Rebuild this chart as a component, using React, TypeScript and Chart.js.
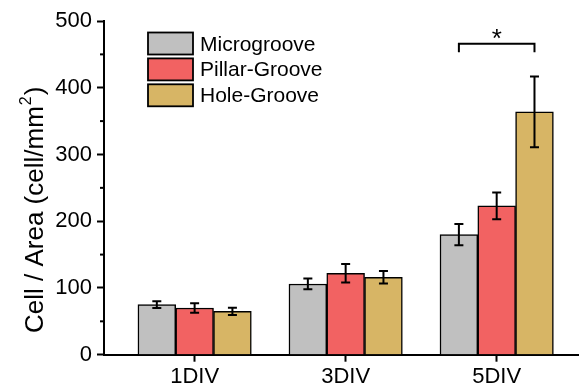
import React, { useEffect, useRef } from 'react';
import { Chart, registerables } from 'chart.js';

Chart.register(...registerables);

const categories = ['1DIV', '3DIV', '5DIV'];
const categoryPositions = [1, 2, 3];
const seriesNames = ['Microgroove', 'Pillar-Groove', 'Hole-Groove'];
const microgroove = [75, 106, 180];
const pillarGroove = [70, 122, 223];
const holeGroove = [65, 116, 364];
const microgrooveErr = [5, 8, 16];
const pillarGrooveErr = [7, 14, 20];
const holeGrooveErr = [5.5, 9.5, 53];
const yMajorTicks = [0, 100, 200, 300, 400, 500];
const yMinorTicks = [50, 150, 250, 350, 450];
// significance bracket: category index, series from/to, bracket level, leg end
const sigCategory = 2;
const sigFrom = 0;
const sigTo = 2;
const sigLevel = 466;
const sigLegEnd = 453;
const sigLabel = '*';

const seriesValues = [microgroove, pillarGroove, holeGroove];
const seriesErrors = [microgrooveErr, pillarGrooveErr, holeGrooveErr];
const seriesColors = ['#c0c0c0', '#f26262', '#d7b565'];
const FONT = '"Liberation Sans", Arial, sans-serif';

const overlayPlugin = {
  id: 'overlay',
  afterDatasetsDraw(chart: any) {
    const ctx = chart.ctx;
    const y = chart.scales.y;
    ctx.save();
    ctx.strokeStyle = '#000';
    ctx.fillStyle = '#000';
    // error bars
    ctx.lineWidth = 2;
    seriesValues.forEach((vals, i) => {
      const meta = chart.getDatasetMeta(i);
      vals.forEach((v, j) => {
        const el = meta.data[j];
        const x = el.x;
        const yt = y.getPixelForValue(v + seriesErrors[i][j]);
        const yb = y.getPixelForValue(v - seriesErrors[i][j]);
        ctx.beginPath();
        ctx.moveTo(x, yt);
        ctx.lineTo(x, yb);
        ctx.moveTo(x - 4.5, yt);
        ctx.lineTo(x + 4.5, yt);
        ctx.moveTo(x - 4.5, yb);
        ctx.lineTo(x + 4.5, yb);
        ctx.stroke();
      });
    });
    // significance bracket
    const x1 = chart.getDatasetMeta(sigFrom).data[sigCategory].x;
    const x2 = chart.getDatasetMeta(sigTo).data[sigCategory].x;
    const yl = y.getPixelForValue(sigLevel);
    const yleg = y.getPixelForValue(sigLegEnd);
    ctx.lineWidth = 2;
    ctx.beginPath();
    ctx.moveTo(x1, yleg);
    ctx.lineTo(x1, yl);
    ctx.lineTo(x2, yl);
    ctx.lineTo(x2, yleg);
    ctx.stroke();
    ctx.font = `26px ${FONT}`;
    ctx.textAlign = 'center';
    ctx.textBaseline = 'alphabetic';
    ctx.fillText(sigLabel, (x1 + x2) / 2, yl + 3);
    ctx.restore();
  },
  afterDraw(chart: any) {
    const ctx = chart.ctx;
    const y = chart.scales.y;
    const left = chart.chartArea.left;
    ctx.save();
    // minor ticks
    ctx.strokeStyle = '#000';
    ctx.lineWidth = 2;
    yMinorTicks.forEach((v) => {
      const py = y.getPixelForValue(v);
      ctx.beginPath();
      ctx.moveTo(left - 4, py);
      ctx.lineTo(left, py);
      ctx.stroke();
    });
    // legend
    ctx.font = `21px ${FONT}`;
    ctx.textAlign = 'left';
    ctx.textBaseline = 'alphabetic';
    seriesNames.forEach((name, i) => {
      const top = 32.5 + i * 25.9;
      ctx.fillStyle = seriesColors[i];
      ctx.fillRect(148, top, 45, 22);
      ctx.lineWidth = 1.8;
      ctx.strokeStyle = '#000';
      ctx.strokeRect(148, top, 45, 22);
      ctx.fillStyle = '#000';
      ctx.fillText(name, 200, top + 18);
    });
    // y title
    ctx.translate(43, 333);
    ctx.rotate(-Math.PI / 2);
    ctx.font = `26px ${FONT}`;
    const main = 'Cell / Area (cell/mm';
    ctx.fillText(main, 0, 0);
    const w = ctx.measureText(main).width;
    ctx.font = `16px ${FONT}`;
    ctx.fillText('2', w + 1, -12);
    const w2 = ctx.measureText('2').width;
    ctx.font = `26px ${FONT}`;
    ctx.fillText(')', w + w2 + 2, 0);
    ctx.restore();
  },
};

export default function App() {
  const ref = useRef<HTMLCanvasElement>(null);
  useEffect(() => {
    document.body.style.margin = '0';
    const canvas = ref.current!;
    const chart = new Chart(canvas, {
      type: 'bar',
      data: {
        datasets: seriesNames.map((name, i) => ({
          label: name,
          data: seriesValues[i].map((v, j) => ({ x: categoryPositions[j], y: v })),
          backgroundColor: seriesColors[i],
          borderColor: '#000',
          borderWidth: 1.5,
          barThickness: 37.8,
        })),
      },
      options: {
        animation: false,
        responsive: false,
        devicePixelRatio: 1,
        layout: { padding: { top: 21, right: 0, left: 0, bottom: 0 } },
        plugins: { legend: { display: false }, tooltip: { enabled: false } },
        scales: {
          x: {
            type: 'linear',
            offset: false,
            min: 0.4,
            max: 3.545,
            afterBuildTicks: (axis: any) => {
              axis.ticks = categoryPositions.map((v) => ({ value: v }));
            },
            afterFit: (scale: any) => {
              scale.height = 34.3;
            },
            ticks: {
              autoSkip: false,
              maxRotation: 0,
              padding: 2,
              color: '#000',
              font: { family: FONT, size: 22 },
              callback: (v: any) => categories[categoryPositions.indexOf(v)] ?? '',
            },
            grid: {
              offset: false,
              drawOnChartArea: false,
              drawTicks: true,
              tickLength: 7,
              tickWidth: 2,
              tickColor: '#000',
            },
            border: { display: true, color: '#000', width: 2 },
          },
          y: {
            min: 0,
            max: 500,
            afterBuildTicks: (axis: any) => {
              axis.ticks = yMajorTicks.map((v) => ({ value: v }));
            },
            afterFit: (scale: any) => {
              scale.width = 104;
            },
            ticks: {
              padding: 5,
              color: '#000',
              font: { family: FONT, size: 22 },
            },
            grid: {
              drawOnChartArea: false,
              drawTicks: true,
              tickLength: 7,
              tickWidth: 2,
              tickColor: '#000',
            },
            border: { display: true, color: '#000', width: 2 },
          },
        },
      },
      plugins: [overlayPlugin],
    });
    return () => chart.destroy();
  }, []);
  return (
    <div style={{ width: 579, height: 389 }}>
      <canvas ref={ref} width={579} height={389} />
    </div>
  );
}
